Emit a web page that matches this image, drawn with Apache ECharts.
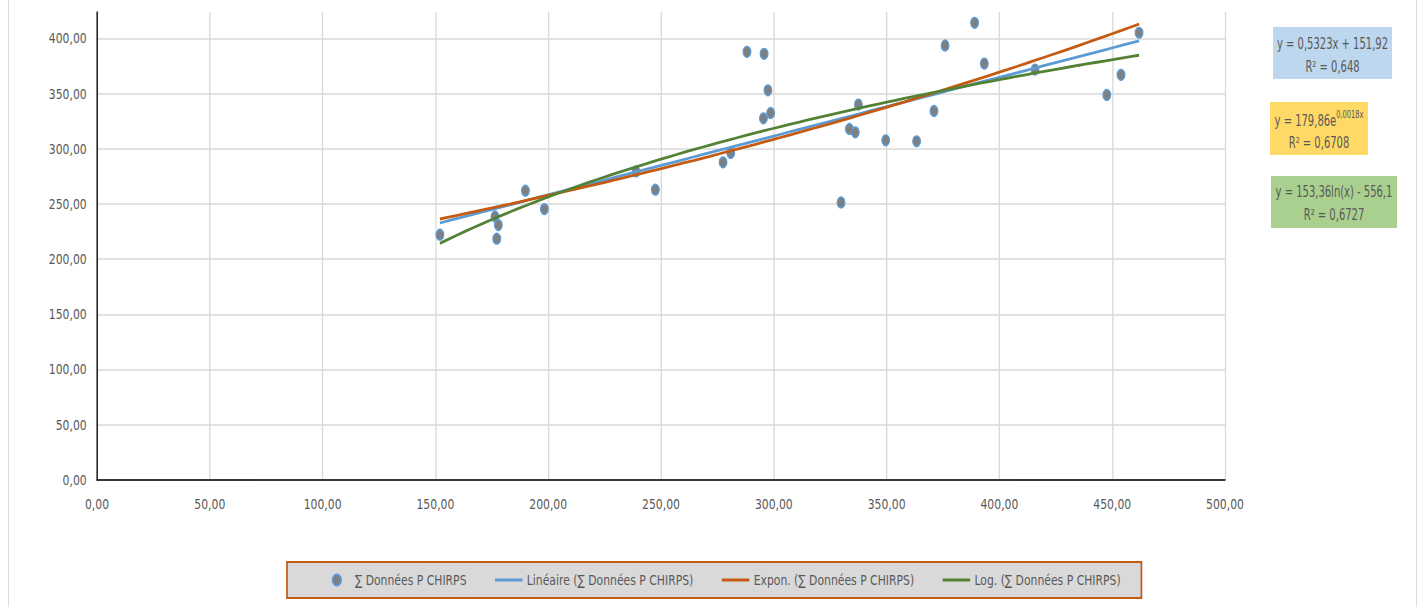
<!DOCTYPE html>
<html>
<head>
<meta charset="utf-8">
<title>Données P CHIRPS</title>
<script src="https://cdn.jsdelivr.net/npm/echarts@6/dist/echarts.min.js"></script>
<style>
  html, body { margin: 0; padding: 0; background: #ffffff; overflow: hidden; }
  #frame { width: 1425px; height: 607px; overflow: hidden; position: relative; }
  /* the chart is laid out wider and condensed horizontally, like the narrow Office typeface */
  #chart { height: 607px; transform-origin: 0 0; position: absolute; left: 0; top: 0; }
</style>
</head>
<body>
<div id="frame"><div id="chart"></div></div>
<script>
// Observed totals: x and y of each pair
const xValues = [152.0, 176.4, 177.9, 177.2, 189.9, 198.3, 238.9, 247.5, 277.5, 280.9,
                 288.1, 295.7, 297.4, 295.4, 298.6, 329.8, 333.5, 336.1, 337.5, 349.6,
                 363.3, 371.0, 375.9, 389.0, 393.3, 415.8, 447.6, 453.9, 461.9];
const yValues = [222.2, 238.8, 231.0, 218.6, 262.1, 245.5, 279.6, 263.0, 287.8, 296.3,
                 387.9, 386.1, 353.1, 327.7, 332.6, 251.5, 318.1, 315.0, 340.1, 307.8,
                 306.9, 334.4, 393.7, 414.2, 377.3, 371.9, 348.9, 367.1, 405.2];

// Trendline coefficients, as printed in the equation boxes
const linearCoef = [0.5323, 151.92];   // y = a*x + b
const expCoef    = [179.86, 0.0018];   // y = a*e^(b*x)
const logCoef    = [153.36, -556.1];   // y = a*ln(x) + b

// Equation box texts
const linearText = ['y = 0,5323x + 151,92', 'R² = 0,648'];
const expText    = ['y = 179,86e', '0,0018x', 'R² = 0,6708'];
const logText    = ['y = 153,36ln(x) - 556,1', 'R² = 0,6727'];

// Series names
const seriesNames = ['∑ Données P CHIRPS', 'Linéaire (∑ Données P CHIRPS)',
                     'Expon. (∑ Données P CHIRPS)', 'Log. (∑ Données P CHIRPS)'];

// Axis tick labels
const xTicks = ['0,00', '50,00', '100,00', '150,00', '200,00', '250,00', '300,00', '350,00', '400,00', '450,00', '500,00'];
const yTicks = ['0,00', '50,00', '100,00', '150,00', '200,00', '250,00', '300,00', '350,00', '400,00'];

const FONT = "'DejaVu Sans Condensed', 'Liberation Sans Narrow', sans-serif";
const TEXT = '#595959';
const GRID = '#D9D9D9';

// horizontal condensing factor; layout x positions are given in screen pixels and divided by it
const S = 0.86;
const W = 1425;
const px = v => v / S;

const el = document.getElementById('chart');
el.style.width = px(W) + 'px';
el.style.transform = 'scaleX(' + S + ')';

const points = xValues.map((x, i) => [x, yValues[i]]);

// Trend curves sampled across the observed x range
const xMin = Math.min(...xValues), xMax = Math.max(...xValues);
function curve(f) {
  const out = [];
  const n = 80;
  for (let i = 0; i <= n; i++) {
    const x = xMin + (xMax - xMin) * i / n;
    out.push([x, f(x)]);
  }
  return out;
}
const linearLine = curve(x => linearCoef[0] * x + linearCoef[1]);
const expLine    = curve(x => expCoef[0] * Math.exp(expCoef[1] * x));
const logLine    = curve(x => logCoef[0] * Math.log(x) + logCoef[1]);

const tickLabel = (list, step) => v => {
  const k = Math.round(v / step);
  return Math.abs(v - k * step) < 1e-6 && list[k] !== undefined ? list[k] : '';
};

const chart = echarts.init(el, null, { renderer: 'svg' });

// equation text is set a little taller and narrower than the axis text
const EQ_SCALE = 0.86;
function eqBox(x, y, w, h, fill) {
  return { type: 'rect', shape: { x: px(x), y, width: px(w), height: h }, style: { fill }, silent: true };
}
function eqLine(cx, cy, text) {
  return {
    type: 'text', x: px(cx), y: cy, scaleX: EQ_SCALE, silent: true,
    style: { text, fill: TEXT, font: '15px ' + FONT, align: 'center', verticalAlign: 'middle' }
  };
}
const lineIcon = 'path://M0,0 L32,0 L32,3 L0,3 Z';

chart.setOption({
  animation: false,
  backgroundColor: '#ffffff',
  grid: { left: px(97), right: px(200), top: 12, bottom: 127 },
  xAxis: {
    type: 'value', min: 0, max: 500, interval: 50,
    axisLine: { show: true, lineStyle: { color: '#000000', width: 1.5 } },
    axisTick: { show: false },
    axisLabel: { color: TEXT, fontSize: 14, fontFamily: FONT, margin: 17, formatter: tickLabel(xTicks, 50) },
    splitLine: { show: true, lineStyle: { color: GRID, width: 1.5 } }
  },
  yAxis: {
    type: 'value', min: 0, max: 424, interval: 50,
    axisLine: { show: true, lineStyle: { color: '#000000', width: 1.5 } },
    axisTick: { show: false },
    axisLabel: { color: TEXT, fontSize: 14, fontFamily: FONT, margin: 12, showMaxLabel: false, formatter: tickLabel(yTicks, 50) },
    splitLine: { show: true, showMaxLine: false, lineStyle: { color: GRID, width: 1.5 } }
  },
  legend: {
    left: px(287), top: 562,
    padding: [11, 24, 11, 52],
    itemGap: 33, itemWidth: 32, itemHeight: 11,
    backgroundColor: '#D9D9D9', borderColor: '#C55A11', borderWidth: 2,
    textStyle: { color: TEXT, fontSize: 14, fontFamily: FONT },
    data: [
      { name: seriesNames[0], icon: 'path://M5,0 A5,5.5 0 1,1 5,11 A5,5.5 0 1,1 5,0 Z' },
      { name: seriesNames[1], icon: lineIcon },
      { name: seriesNames[2], icon: lineIcon },
      { name: seriesNames[3], icon: lineIcon }
    ]
  },
  series: [
    {
      name: seriesNames[0], type: 'scatter', data: points,
      symbol: 'circle', symbolSize: [9, 10.5],
      itemStyle: { color: '#7F7F7F', borderColor: '#5B9BD5', borderWidth: 1.5, opacity: 1 },
      z: 2
    },
    {
      name: seriesNames[1], type: 'line', data: linearLine, symbol: 'none', smooth: false,
      lineStyle: { color: '#5B9BD5', width: 2.8 }, itemStyle: { color: '#5B9BD5' }, z: 3
    },
    {
      name: seriesNames[2], type: 'line', data: expLine, symbol: 'none', smooth: false,
      lineStyle: { color: '#C55A11', width: 2.8 }, itemStyle: { color: '#C55A11' }, z: 4
    },
    {
      name: seriesNames[3], type: 'line', data: logLine, symbol: 'none', smooth: false,
      lineStyle: { color: '#548235', width: 2.8 }, itemStyle: { color: '#548235' }, z: 5
    }
  ],
  graphic: [
    // chart area frame
    { type: 'rect', shape: { x: px(8.5), y: -5, width: px(1408), height: 620 },
      style: { fill: 'none', stroke: GRID, lineWidth: 1 }, silent: true, z: -10 },
    // linear equation
    eqBox(1273, 27, 119, 52, '#BDD7EE'),
    eqLine(1332.5, 44, linearText[0]),
    eqLine(1332.5, 67, linearText[1]),
    // exponential equation
    eqBox(1270, 102, 98, 53, '#FFD966'),
    {
      type: 'text', x: px(1319), y: 119, scaleX: EQ_SCALE, silent: true,
      style: {
        text: '{a|' + expText[0] + '}{s|' + expText[1] + '}',
        align: 'center', verticalAlign: 'middle',
        rich: {
          a: { fill: TEXT, fontSize: 15, fontFamily: FONT, lineHeight: 19, verticalAlign: 'bottom' },
          s: { fill: TEXT, fontSize: 10, fontFamily: FONT, lineHeight: 19, verticalAlign: 'top' }
        }
      }
    },
    eqLine(1319, 143, expText[2]),
    // logarithmic equation
    eqBox(1271, 176, 126, 52, '#A9D08E'),
    eqLine(1334, 192, logText[0]),
    eqLine(1334, 215, logText[1])
  ]
});
</script>
</body>
</html>
